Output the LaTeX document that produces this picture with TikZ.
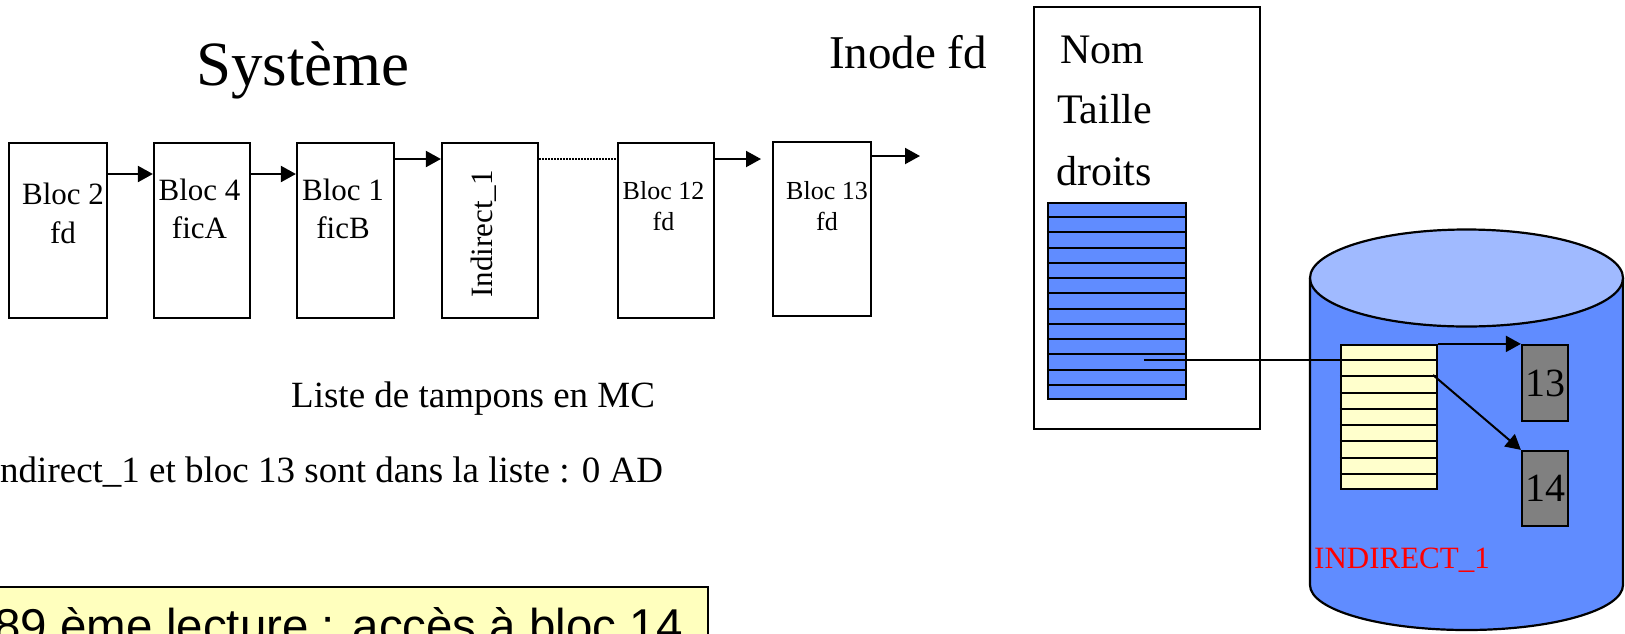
\documentclass[tikz,border=0pt]{standalone}
\usepackage{fontspec}
\setmainfont{Liberation Serif}
\newfontfamily\arialf{Liberation Sans}
\usetikzlibrary{arrows.meta,calc}
\definecolor{cylblue}{RGB}{96,140,255}
\definecolor{cyltop}{RGB}{160,186,255}
\definecolor{tabyellow}{RGB}{255,255,204}
\definecolor{noteyellow}{RGB}{255,255,190}
\definecolor{blkgray}{RGB}{128,128,128}
\newcommand\setfs[1]{\fontsize{#1}{#1}\selectfont}
\begin{document}
\begin{tikzpicture}[x=1pt,y=-1pt,
  box/.style={draw, line width=2.2pt, inner sep=0pt},
  arr/.style={line width=2pt, -{Triangle[length=15pt,width=16pt]}},
  tabline/.style={line width=2pt},
  txt/.style={inner sep=0pt, anchor=base},
  big/.style={font={\setfs{31}}},
  small/.style={font={\setfs{26}}}]
\useasboundingbox (0,0) rectangle (1625,633);
\clip (0,0) rectangle (1625,633);

% titles
\node[inner sep=0pt, anchor=base west, font={\setfs{63}}] (sys) at (196,85) {Système};
\node[inner sep=0pt, anchor=base west, font={\setfs{47}}] (inodet) at (829,68) {Inode fd};

% buffer list
\node[box, minimum width=98pt, minimum height=175pt] (b2) at (58,230.5) {};
\node[box, minimum width=96pt, minimum height=175pt] (b4) at (202,230.5) {};
\node[box, minimum width=97pt, minimum height=175pt] (b1) at (345.5,230.5) {};
\node[box, minimum width=96pt, minimum height=175pt] (bi) at (490,230.5) {};
\node[box, minimum width=96pt, minimum height=175pt] (b12) at (666,230.5) {};
\node[box, minimum width=98pt, minimum height=174pt] (b13) at (822,229) {};

\node[txt, big] (t2a) at (63,204) {Bloc 2};
\node[txt, big] (t2b) at (63,243) {fd};
\node[txt, big] (t4a) at (199.5,200) {Bloc 4};
\node[txt, big] (t4b) at (199.5,238) {ficA};
\node[txt, big] (t1a) at (343,200) {Bloc 1};
\node[txt, big] (t1b) at (343,238) {ficB};
\node[txt, big, rotate=90] (tind) at (492,234) {Indirect\_1};
\node[txt, small] (t12a) at (663.5,199) {Bloc 12};
\node[txt, small] (t12b) at (663.5,230) {fd};
\node[txt, small] (t13a) at (827,199) {Bloc 13};
\node[txt, small] (t13b) at (827,230) {fd};

\draw[arr] (b2.east |- 0,174) -- (b4.west |- 0,174);
\draw[arr] (b4.east |- 0,174) -- (b1.west |- 0,174);
\draw[arr] (b1.east |- 0,159) -- (bi.west |- 0,159);
\draw[line width=2pt, dash pattern=on 1.5pt off 1.5pt] (bi.east |- 0,159) -- (b12.west |- 0,159);
\coordinate (e12) at (761,159);
\draw[arr] (b12.east |- e12) -- (e12);
\coordinate (e13) at (920,156);
\draw[arr] (b13.east |- e13) -- (e13);

\node[inner sep=0pt, anchor=base west, font={\setfs{37}}] (liste) at (291,407) {Liste de tampons en MC};
\node[inner sep=0pt, anchor=base west, font={\setfs{37}}] (ad) at (-12.3,482) {Indirect\_1 et bloc 13 sont dans la liste : 0 AD};

% inode
\node[box, minimum width=226pt, minimum height=422pt] (inode) at (1147,218) {};
\node[inner sep=0pt, anchor=base west, font={\setfs{42}}] (nom) at (1060,63) {Nom};
\node[inner sep=0pt, anchor=base west, font={\setfs{42}}] (taille) at (1057,123) {Taille};
\node[inner sep=0pt, anchor=base west, font={\setfs{42}}] (droits) at (1056,185) {droits};
\node[box, fill=cylblue, minimum width=138pt, minimum height=196pt] (itab) at (1117,301) {};
\foreach \k in {1,...,12}
  \draw[tabline] ($(itab.north west)!\k/13!(itab.south west)$) -- ($(itab.north east)!\k/13!(itab.south east)$);

% disk cylinder
\fill[cylblue] (1310,278) -- (1310,585)
  .. controls (1310,609.85) and (1380.07,630) .. (1466.5,630)
  .. controls (1552.93,630) and (1623,609.85) .. (1623,585)
  -- (1623,278) -- cycle;
\draw[line width=2.2pt] (1310,278) -- (1310,585)
  .. controls (1310,609.85) and (1380.07,630) .. (1466.5,630)
  .. controls (1552.93,630) and (1623,609.85) .. (1623,585)
  -- (1623,278);
\filldraw[fill=cyltop, line width=2.2pt] (1466.5,278) ellipse [x radius=156.5, y radius=48.5];

\node[box, fill=tabyellow, minimum width=96pt, minimum height=144pt] (ytab) at (1389,417) {};
\foreach \k in {1,...,8}
  \draw[tabline] ($(ytab.north west)!\k/9!(ytab.south west)$) -- ($(ytab.north east)!\k/9!(ytab.south east)$);
\node[box, fill=blkgray, minimum width=46pt, minimum height=76pt, font={\setfs{40}}] (n13) at (1545,383) {13};
\node[box, fill=blkgray, minimum width=46pt, minimum height=75pt, font={\setfs{40}}] (n14) at (1545,488.5) {14};
\node[inner sep=0pt, anchor=base west, text=red, font={\setfs{31}}] (indl) at (1314,568) {INDIRECT\_1};

% pointers
\coordinate (p1) at (1144,360);
\draw[line width=2pt] (p1) -- (p1 -| ytab.west);
\draw[arr] (ytab.north east) -- (n13.north west);
\coordinate (p2) at (1433,375);
\draw[arr] (p2) -- (n14.north west);

% note box
\node[box, fill=noteyellow, minimum width=718pt, minimum height=73pt] (note) at (349,623.5) {};
\node[inner sep=0pt, anchor=base east, font={\arialf\setfs{47.5}}] (notetxt) at (683,642) {89 ème lecture : accès à bloc 14};
\end{tikzpicture}
\end{document}
